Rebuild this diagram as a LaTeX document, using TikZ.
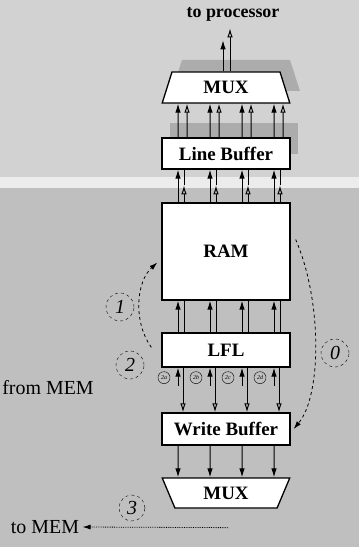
\documentclass[tikz,border=0pt]{standalone}
\usepackage{fontspec}
\setmainfont{Liberation Serif}
\usetikzlibrary{arrows.meta, shapes.geometric, calc}

\tikzset{
  unit/.style={draw, line width=1.3bp, fill=white, minimum width=128bp, inner sep=0pt,
    font=\bfseries\fontsize{19}{22}\selectfont},
  muxshape/.style={unit, trapezium, trapezium stretches=true},
  fa/.style={line width=1bp, -{Latex[length=9bp,width=5.5bp]}},
  oa/.style={line width=1bp, -{Latex[open,length=9bp,width=5.5bp]}},
  phase/.style={draw, dashed, circle, minimum size=28bp, inner sep=0pt,
    font=\itshape\fontsize{20}{22}\selectfont},
  port/.style={draw, circle, minimum size=12bp, inner sep=0pt,
    font=\itshape\fontsize{6}{7}\selectfont},
  flow/.style={dashed, line width=0.8bp, -{Latex[length=8bp,width=5bp]}},
  plain/.style={font=\fontsize{20}{22}\selectfont}
}

\begin{document}
\begin{tikzpicture}[x=1bp, y=-1bp]
        \useasboundingbox (0,0) rectangle (359,547);

        % Background tones
        \fill[gray!35] (0,0) rectangle (359,177);
        \fill[gray!15] (0,177) rectangle (359,188);
        \fill[gray!50] (0,188) rectangle (359,547);

        % Shadows behind the top part
        \fill[gray!65] (182,60) -- (290,60) -- (300,91) -- (172,91) -- cycle;
        \fill[gray!65] (170,123) rectangle (298,154);

        % Units of the cache
        \node[muxshape, minimum height=31bp, trapezium left angle=72, trapezium right angle=72] (muxT) at (226,87.5) {MUX};
        \node[unit, minimum height=31bp] (lbuf) at (226,153.5) {Line Buffer};
        \node[unit, minimum height=97bp] (ram) at (226,251.5) {RAM};
        \node[unit, minimum height=34bp] (lfl) at (226,350) {LFL};
        \node[unit, minimum height=32bp] (wbuf) at (226,429) {Write Buffer};
        \node[muxshape, minimum height=30bp, trapezium left angle=66, trapezium right angle=66, shape border rotate=180] (muxB) at (226,493) {MUX};

        % Outside labels
        \node[font=\bfseries\fontsize{18}{20}\selectfont] (toproc) at (233,14) {to processor};
        \node[plain] (frommem) at (48,388) {from MEM};
        \node[plain] (tomem) at (45,527) {to MEM};

        % Phase numbers
        \node[phase] (ph1) at (120,307) {1};
        \node[phase] (ph2) at (130,365) {2};
        \node[phase] (ph0) at (335,353) {0};
        \node[phase, minimum size=26bp] (ph3) at (132,508) {3};

        % MUX to processor
        \draw[fa] ($(muxT.north)+(-3,0)$) -- ++(0,-31);
        \draw[oa] ($(muxT.north)+(4,0)$) -- ++(0,-43);

        % Line Buffer to MUX
        \foreach \dx in {-48,-16,16,48} {
          \draw[fa] ($(lbuf.north)+(\dx,0)$) -- ($(muxT.south)+(\dx,0)$);
          \draw[oa] ($(lbuf.north)+(\dx+9,0)$) -- ($(muxT.south)+(\dx+9,0)$);
        }

        % RAM to Line Buffer
        \foreach \dx in {-48,-16,16,48} {
          \draw[fa] ($(ram.north)+(\dx,0)$) -- ($(lbuf.south)+(\dx,0)$);
          \draw[oa] ($(ram.north)+(\dx+6,0)$) -- ($(ram.north)+(\dx+6,-17)$);
          \draw[line width=1bp] ($(ram.north)+(\dx+6,-17)$) -- ($(lbuf.south)+(\dx+6,0)$);
        }

        % LFL to RAM
        \foreach \dx in {-48,-16,16,48} {
          \draw[fa] ($(lfl.north)+(\dx,0)$) -- ($(ram.south)+(\dx,0)$);
          \draw[line width=1bp] ($(lfl.north)+(\dx+6,0)$) -- ($(ram.south)+(\dx+6,0)$);
        }

        % Words from MEM into LFL, LFL to Write Buffer
        \foreach \dx/\lab in {-48/2a,-16/2b,16/2c,48/2d} {
          \draw[fa] ($(lfl.south)+(\dx,18)$) -- ($(lfl.south)+(\dx,0)$);
          \node[port] (p\lab) at ($(lfl.south)+(\dx-14,10)$) {\lab};
          \draw[oa] ($(lfl.south)+(\dx+5,0)$) -- ($(wbuf.north)+(\dx+5,0)$);
        }

        % Write Buffer to MUX
        \foreach \dx in {-48,-16,16,48} {
          \draw[fa] ($(wbuf.south)+(\dx,0)$) -- ($(muxB.north)+(\dx,0)$);
        }

        % Dashed transfers
        \draw[flow] ($(lfl.north west)+(-10,15)$) .. controls (133,322) and (136,282) .. ($(ram.west)+(-4,11)$);
        \draw[flow] ($(ram.east)+(5,-12)$) .. controls (322,300) and (322,395) .. ($(wbuf.east)+(3,0)$);
        \draw[flow, densely dotted] ($(muxB.south)+(2,19)$) -- (tomem.east);

    \end{tikzpicture}
\end{document}
